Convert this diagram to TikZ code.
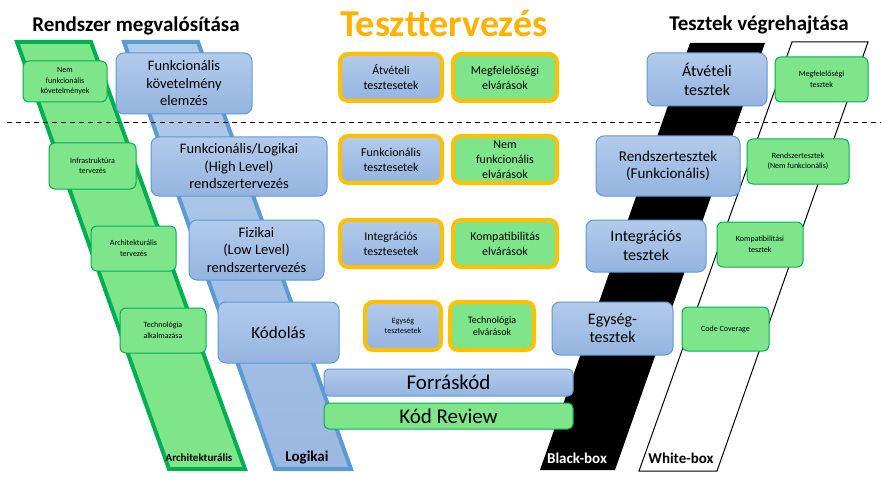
\documentclass[tikz,border=0pt]{standalone}
\usepackage{fontspec}
\setmainfont{Carlito}
\usepackage{xcolor}

\definecolor{bluetop}{HTML}{B3CBEB}
\definecolor{bluebot}{HTML}{94B4E0}
\definecolor{blueline}{HTML}{5B9BD5}
\definecolor{stripblue}{HTML}{9BB8E2}
\definecolor{greenfill}{HTML}{7FE58A}
\definecolor{greenline}{HTML}{00B050}
\definecolor{orangeline}{HTML}{FFC000}
\definecolor{titleorange}{HTML}{FFB200}

\begin{document}
\begin{tikzpicture}[x=1pt, y=-1pt,
    bluebox/.style={draw=blueline, line width=1pt, rounded corners=8pt, top color=bluetop, bottom color=bluebot, align=center, inner sep=1pt},
    greenbox/.style={draw=greenline, line width=1pt, rounded corners=6pt, fill=greenfill, align=center, inner sep=1pt},
    testbox/.style={draw=orangeline, line width=4pt, rounded corners=8pt, align=center, inner sep=1pt},
    bigtext/.style={font=\fontsize{14.5}{17.5}\selectfont},
    midtext/.style={font=\fontsize{12}{15}\selectfont},
    smalltext/.style={font=\fontsize{8}{10.5}\selectfont},
    title/.style={font=\fontsize{21}{23}\selectfont\bfseries},
    striplabel/.style={font=\fontsize{15}{17}\selectfont\bfseries},
    strip/.style={line width=4pt, line join=miter}
]
\useasboundingbox (0,0) rectangle (881,492);

% Strips
\draw[strip, draw=greenline, fill=greenfill] (17,42) -- (91,42) -- (245,469) -- (169,469) -- cycle;
\draw[strip, draw=blueline, top color=bluetop, bottom color=stripblue] (124,42) -- (198,42) -- (351,469) -- (275,469) -- cycle;
\fill[black] (690,43) -- (765,43) -- (615,470) -- (540,470) -- cycle;
\draw[line width=1pt] (792,42) -- (868,42) -- (717,471) -- (639,471) -- cycle;

% Separator
\draw[dashed, line width=1pt, dash pattern=on 5pt off 4pt] (7,123) -- (881,123);

% Titles
\node[title] (rmtitle) at (136,26) {Rendszer megvalósítása};
\node[font=\fontsize{38}{42}\selectfont\bfseries, text=titleorange] (tttitle) at (444,24) {Teszttervezés};
\node[title] (tvtitle) at (759,25) {Tesztek végrehajtása};

% Left column: design
\node[bluebox, bigtext, minimum width=136pt, minimum height=61pt] (fkov) at (184,83.5) {Funkcionális\\követelmény\\elemzés};
\node[bluebox, bigtext, minimum width=176pt, minimum height=59pt] (hl) at (239,166.5) {Funkcionális/Logikai\\(High Level)\\rendszertervezés};
\node[bluebox, bigtext, minimum width=135pt, minimum height=60pt] (ll) at (256.5,250) {Fizikai\\(Low Level)\\rendszertervezés};
\node[bluebox, font=\fontsize{17}{20}\selectfont, minimum width=121pt, minimum height=61pt] (kod) at (278.5,332.5) {Kódolás};

\node[greenbox, smalltext, minimum width=84pt, minimum height=41pt] (nfk) at (65,81.5) {Nem\\funkcionális\\követelmények};
\node[greenbox, smalltext, minimum width=87pt, minimum height=46pt] (infra) at (92.5,166) {Infrastruktúra\\tervezés};
\node[greenbox, smalltext, minimum width=85pt, minimum height=45pt] (arch) at (133.5,248.5) {Architekturális\\tervezés};
\node[greenbox, smalltext, minimum width=86pt, minimum height=45pt] (tech) at (163,330.5) {Technológia\\alkalmazása};

% Middle: test design
\node[bluebox, testbox, midtext, minimum width=102pt, minimum height=47pt] (atc) at (391,77.5) {Átvételi\\tesztesetek};
\node[testbox, fill=greenfill, midtext, minimum width=104pt, minimum height=47pt] (megf) at (505,77.5) {Megfelelőségi\\elvárások};
\node[bluebox, testbox, midtext, minimum width=102pt, minimum height=47pt] (fte) at (391,159.5) {Funkcionális\\tesztesetek};
\node[testbox, fill=greenfill, midtext, minimum width=104pt, minimum height=47pt] (nfe) at (505,159.5) {Nem\\funkcionális\\elvárások};
\node[bluebox, testbox, midtext, minimum width=102pt, minimum height=47pt] (ite) at (391,243.5) {Integrációs\\tesztesetek};
\node[testbox, fill=greenfill, midtext, minimum width=104pt, minimum height=47pt] (kpe) at (505,243.5) {Kompatibilitás\\elvárások};
\node[bluebox, testbox, smalltext, minimum width=76pt, minimum height=48pt] (ete) at (403,326) {Egység\\tesztesetek};
\node[testbox, fill=greenfill, font=\fontsize{10}{12.5}\selectfont, minimum width=84pt, minimum height=48pt] (tee) at (492,326) {Technológia\\elvárások};

\node[bluebox, rounded corners=5pt, font=\fontsize{21}{24}\selectfont, minimum width=249pt, minimum height=27pt] (forras) at (448.5,382.5) {Forráskód};
\node[greenbox, rounded corners=5pt, font=\fontsize{21}{24}\selectfont, minimum width=249pt, minimum height=26pt] (review) at (448.5,416) {Kód Review};

% Right column: test execution
\node[bluebox, font=\fontsize{16}{19}\selectfont, minimum width=120pt, minimum height=53pt] (atv) at (707,79.5) {Átvételi\\tesztek};
\node[bluebox, font=\fontsize{15}{17.5}\selectfont, minimum width=144pt, minimum height=60pt] (rt) at (668,166) {Rendszertesztek\\(Funkcionális)};
\node[bluebox, font=\fontsize{16}{19}\selectfont, minimum width=120pt, minimum height=52pt] (it) at (646,246) {Integrációs\\tesztek};
\node[bluebox, font=\fontsize{16}{18}\selectfont, minimum width=121pt, minimum height=53pt] (et) at (612.5,328.5) {Egység-\\tesztek};

\node[greenbox, smalltext, minimum width=93pt, minimum height=45pt] (mt) at (821.5,79.5) {Megfelelőségi\\tesztek};
\node[greenbox, smalltext, minimum width=102pt, minimum height=45pt] (rnf) at (798,161.5) {Rendszertesztek\\(Nem funkcionális)};
\node[greenbox, smalltext, minimum width=86pt, minimum height=45pt] (kt) at (760,244.5) {Kompatibilitási\\tesztek};
\node[greenbox, smalltext, minimum width=87pt, minimum height=44pt] (cc) at (725.5,329) {Code Coverage};

% Strip labels
\node[font=\fontsize{11}{13}\selectfont\bfseries] (archlbl) at (199,458) {Architekturális};
\node[striplabel] (loglbl) at (307,458) {Logikai};
\node[striplabel, text=white] (bblbl) at (577,458) {Black-box};
\node[striplabel] (wblbl) at (681,458) {White-box};

\end{tikzpicture}
\end{document}
